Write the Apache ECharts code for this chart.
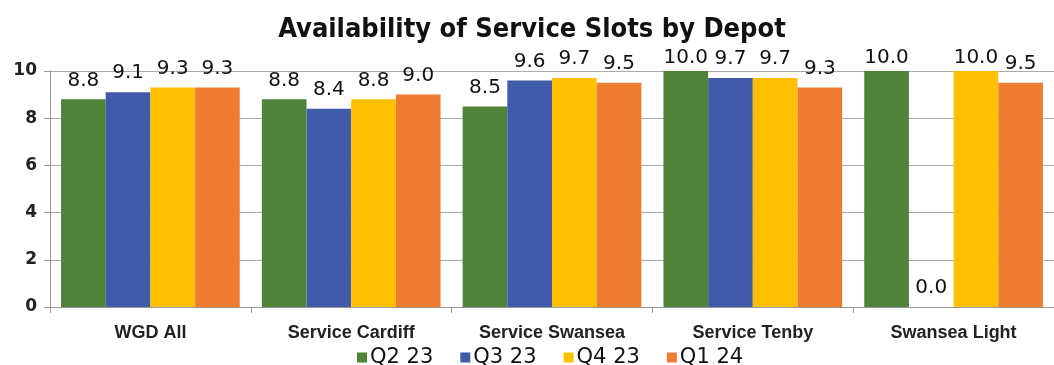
<!DOCTYPE html>
<html><head><meta charset="utf-8">
<script src="https://cdn.jsdelivr.net/npm/echarts@6/dist/echarts.min.js"></script>
<style>html,body{margin:0;padding:0;background:#fff}#c{width:1054px;height:365px}</style>
</head><body><div id="c"></div>
<script>
const categories = ["WGD All", "Service Cardiff", "Service Swansea", "Service Tenby", "Swansea Light"];
const seriesNames = ["Q2 23", "Q3 23", "Q4 23", "Q1 24"];
const q2_23 = [8.8, 8.8, 8.5, 10.0, 10.0];
const q3_23 = [9.1, 8.4, 9.6, 9.7, 0.0];
const q4_23 = [9.3, 8.8, 9.7, 9.7, 10.0];
const q1_24 = [9.3, 9.0, 9.5, 9.3, 9.5];
const yTicks = [0, 2, 4, 6, 8, 10];
const colors = ["#4F8339", "#3F5BA9", "#FFC000", "#EF7D31"];
const values = [q2_23, q3_23, q4_23, q1_24];

const chart = echarts.init(document.getElementById('c'));
chart.setOption({
  animation: false,
  title: {
    text: "Availability of Service Slots by Depot",
    left: 527, textAlign: 'center', top: 11,
    textStyle: {fontFamily: "DejaVu Sans Condensed", fontWeight: 'bold', fontSize: 27, color: '#111'}
  },
  legend: {
    data: seriesNames, top: 342, left: 352, itemWidth: 10, itemHeight: 10, itemGap: 27,
    icon: 'rect',
    textStyle: {fontFamily: "DejaVu Sans", fontSize: 21, color: '#111', padding: [0, 0, 0, -2]}
  },
  grid: {left: 50, right: -11, top: 71, bottom: 58, containLabel: false},
  xAxis: {
    type: 'category', data: categories,
    axisLine: {lineStyle: {color: '#999'}},
    axisTick: {show: true, length: 6, lineStyle: {color: '#999'}},
    axisLabel: {fontFamily: "Liberation Sans", fontWeight: 'bold', fontSize: 18, color: '#222', margin: 17}
  },
  yAxis: {
    type: 'value', min: yTicks[0], max: yTicks[yTicks.length - 1], interval: 2,
    axisLine: {show: true, lineStyle: {color: '#999'}},
    axisTick: {show: true, length: 6, lineStyle: {color: '#999'}},
    splitLine: {lineStyle: {color: '#aaa'}},
    axisLabel: {fontFamily: "DejaVu Sans", fontWeight: 'bold', fontSize: 17, color: '#222', margin: 13}
  },
  series: seriesNames.map((n, i) => ({
    name: n, type: 'bar',
    data: values[i].map(v => v >= 10 ? {value: v, label: {distance: 3}} : v),
    barGap: '0%', barCategoryGap: '11%',
    itemStyle: {color: colors[i]},
    label: {show: true, position: 'top', distance: 9, formatter: p => p.value.toFixed(1),
      fontFamily: "DejaVu Sans", fontSize: 20, color: '#111'}
  }))
});
</script></body></html>
